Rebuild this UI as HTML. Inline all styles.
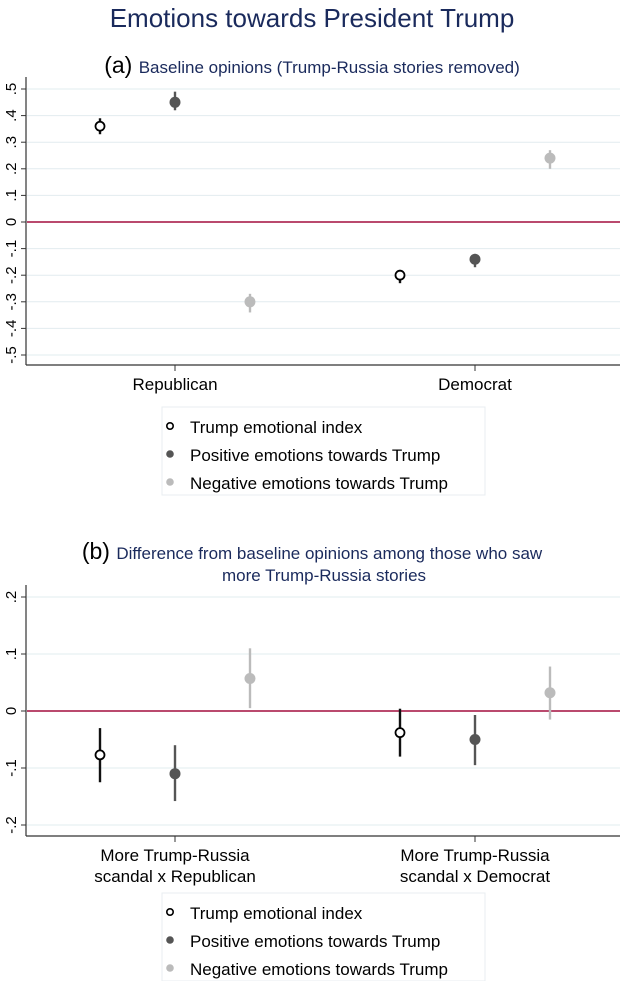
<!DOCTYPE html>
<html><head><meta charset="utf-8"><style>
html,body{margin:0;padding:0;background:#fff;width:624px;height:981px;overflow:hidden}
svg{display:block;font-family:"Liberation Sans",Arial,sans-serif}
</style></head><body>
<svg id="c" width="624" height="981" viewBox="0 0 624 981">
<text x="312" y="27" text-anchor="middle" font-size="26" fill="#1a2a5c">Emotions towards President Trump</text>
<text x="312" y="73" text-anchor="middle"><tspan font-size="23" fill="#000">(a) </tspan><tspan font-size="17" fill="#1a2a5c">Baseline opinions (Trump-Russia stories removed)</tspan></text>
<text x="312" y="559" text-anchor="middle"><tspan font-size="23" fill="#000">(b) </tspan><tspan font-size="17" fill="#1a2a5c">Difference from baseline opinions among those who saw</tspan></text>
<text x="324" y="581" text-anchor="middle" font-size="17" fill="#1a2a5c">more Trump-Russia stories</text>
</svg>
<script>
const seriesNames=["Trump emotional index","Positive emotions towards Trump","Negative emotions towards Trump"];
const aCategories=["Republican","Democrat"];
const aEst=[[0.36,0.45,-0.30],[-0.20,-0.14,0.24]];
const aLo=[[0.33,0.42,-0.34],[-0.23,-0.17,0.20]];
const aHi=[[0.39,0.49,-0.27],[-0.18,-0.12,0.27]];
const aTicks=[0.5,0.4,0.3,0.2,0.1,0,-0.1,-0.2,-0.3,-0.4,-0.5];
const aTickLabels=[".5",".4",".3",".2",".1","0","-.1","-.2","-.3","-.4","-.5"];
const bCategories=[["More Trump-Russia","scandal x Republican"],["More Trump-Russia","scandal x Democrat"]];
const bEst=[[-0.077,-0.11,0.057],[-0.038,-0.05,0.032]];
const bLo=[[-0.125,-0.158,0.005],[-0.08,-0.095,-0.015]];
const bHi=[[-0.03,-0.06,0.11],[0.004,-0.007,0.078]];
const bTicks=[0.2,0.1,0,-0.1,-0.2];
const bTickLabels=[".2",".1","0","-.1","-.2"];

const svg=document.getElementById('c');
const NS='http://www.w3.org/2000/svg';
function mk(t,a,p){const e=document.createElementNS(NS,t);for(const k in a)e.setAttribute(k,a[k]);(p||svg).appendChild(e);return e;}
const fills=["#fff","#555","#bbb"],strokes=["#000","#555","#bbb"],bars=["#111","#555","#bbb"];

function panel(id,y0,v0,y1,v1,axBottom,ticks,labels,cats,est,lo,hi,legY){
  const g=mk('g',{});
  
  
  const ys=v=>y0+(v-v0)*(y1-y0)/(v1-v0);
  const xc=[175,475];
  const off=[-75,0,75];
  ticks.forEach((t,i)=>{
    const y=ys(t);
    const gl=mk('line',{x1:27,x2:620,y1:y,y2:y,stroke:t===0?'#b0305a':'#e2ecef','stroke-width':t===0?1.8:1},g);
    
    
    mk('line',{x1:21,x2:26,y1:y,y2:y,stroke:'#333'},g);
    const tx=mk('text',{x:0,y:0,'font-size':15,'text-anchor':'middle',transform:`translate(16,${y}) rotate(-90)`},g);
    tx.textContent=labels[i];
    
    
  });
  const top=ys(ticks[0])-12;
  const ax=mk('line',{x1:26,x2:26,y1:top,y2:axBottom,stroke:'#333','stroke-width':1.2},g);
  
  
  const xa=mk('line',{x1:26,x2:620,y1:axBottom,y2:axBottom,stroke:'#333','stroke-width':1.2},g);
  
  
  cats.forEach((c,i)=>{
    mk('line',{x1:xc[i],x2:xc[i],y1:axBottom,y2:axBottom+6,stroke:'#333'},g);
    const lines=Array.isArray(c)?c:[c];
    lines.forEach((l,j)=>{
      const t=mk('text',{x:xc[i],y:axBottom+25+j*21,'font-size':17,'text-anchor':'middle'},g);
      t.textContent=l;
      
      
    });
    for(let s=0;s<3;s++){
      const x=xc[i]+off[s];
      const e=mk('line',{x1:x,x2:x,y1:ys(lo[i][s]),y2:ys(hi[i][s]),stroke:bars[s],'stroke-width':2.4},g);
      
      
      const p=mk('circle',{cx:x,cy:ys(est[i][s]),r:s===0?4.5:5.5,fill:fills[s],stroke:strokes[s],'stroke-width':s===0?1.8:0},g);
      
      
    }
  });
  const lg=mk('g',{},g);
  
  
  mk('rect',{x:162,y:legY,width:323,height:88,fill:'#fff',stroke:'#e8eef0'},lg);
  seriesNames.forEach((n,s)=>{
    const y=legY+20+s*28;
    mk('circle',{cx:170,cy:y-1,r:s===0?3.2:3.8,fill:fills[s],stroke:strokes[s],'stroke-width':s===0?1.6:0},lg);
    const t=mk('text',{x:190,y:y+6,'font-size':17},lg);
    t.textContent=n;
    
    
  });
}
panel('panel-a',89,0.5,355,-0.5,365,aTicks,aTickLabels,aCategories,aEst,aLo,aHi,407);
panel('panel-b',597,0.2,825,-0.2,836,bTicks,bTickLabels,bCategories,bEst,bLo,bHi,893);
</script>
</body></html>
